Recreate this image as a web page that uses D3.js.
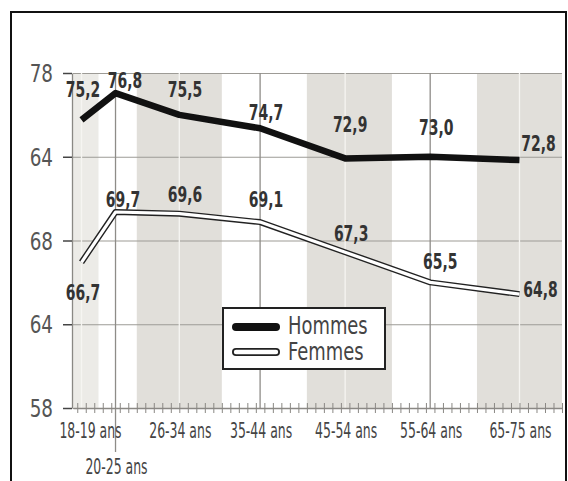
<!DOCTYPE html>
<html><head><meta charset="utf-8">
<script src="https://cdn.jsdelivr.net/npm/d3@7"></script>
<style>body{margin:0;background:#fff}svg{display:block}</style>
</head><body><svg id="chart" width="568" height="481"></svg>
<script>
// ---- data ----
const ageGroups = ["18-19 ans","20-25 ans","26-34 ans","35-44 ans","45-54 ans","55-64 ans","65-75 ans"];
const ageMid = [18.5, 22.5, 30, 39.5, 49.5, 59.5, 70];
const hommes = [75.2, 76.8, 75.5, 74.7, 72.9, 73.0, 72.8];
const femmes = [66.7, 69.7, 69.6, 69.1, 67.3, 65.5, 64.8];
const yTickValues = [58, 63, 68, 73, 78];
const yTickLabels = ["58", "64", "68", "64", "78"];
const shadedBands = [[17.5, 20.5], [25, 35], [45, 55], [65, 75]];
const seriesNames = ["Hommes", "Femmes"];

// ---- layout ----
const FONT = "'Liberation Sans Narrow','Arial Narrow','DejaVu Sans Condensed',sans-serif";
const svg = d3.select("#chart");
svg.append("rect").attr("width",568).attr("height",481).attr("fill","#fff");

const x = d3.scaleLinear().domain([17.5, 75]).range([73, 562]);
const y = d3.scaleLinear().domain([58, 78]).range([408, 73]);
const fr = d3.formatLocale({decimal: ",", thousands: " ", grouping: [3], currency: ["", "€"]});
const fmt = fr.format(".1f");

// bands
svg.append("g").selectAll("rect").data(shadedBands).join("rect")
  .attr("x", d => x(d[0])).attr("width", d => x(d[1]) - x(d[0]))
  .attr("y", y(78)).attr("height", y(58) - y(78))
  .attr("fill", (d, i) => i === 0 ? "#ecebe7" : "#e1dfda");

// horizontal gridlines
const grid = svg.append("g").attr("transform", `translate(${x(17.5)},0)`)
  .call(d3.axisLeft(y).tickValues(yTickValues).tickSize(-(x(75) - x(17.5))).tickFormat(""));
grid.select(".domain").remove();
grid.selectAll(".tick line").attr("stroke", "#9d9b96").attr("stroke-width", 1.2);

// vertical category lines
const inBand = a => shadedBands.some(b => a >= b[0] && a <= b[1]);
svg.append("g").selectAll("line").data(ageMid).join("line")
  .attr("x1", d => x(d)).attr("x2", d => x(d))
  .attr("y1", y(78)).attr("y2", (d, i) => i === 1 ? 452 : y(58))
  .attr("stroke", d => inBand(d) ? "#f6f5f2" : "#8e8c88")
  .attr("stroke-width", 1.3);

// x axis with yearly minor ticks
const xa = svg.append("g").attr("transform", `translate(0,${y(58)})`)
  .call(d3.axisBottom(x).tickValues(d3.range(18, 76)).tickSize(5).tickSizeOuter(0).tickFormat(""));
xa.select(".domain").attr("stroke", "#8a8884").attr("stroke-width", 1.3);
xa.selectAll(".tick line").attr("y1", -5).attr("y2", 5).attr("stroke", "#8a8884");

// y axis
const YS = 0.85;
const ya = svg.append("g").attr("transform", `translate(${x(17.5) - 1},0)`)
  .call(d3.axisLeft(y).tickValues(yTickValues).tickSize(9).tickSizeOuter(0).tickPadding(10)
    .tickFormat(d => yTickLabels[yTickValues.indexOf(d)]));
ya.select(".domain").attr("stroke", "#8a8884").attr("stroke-width", 1.3);
ya.selectAll(".tick line").attr("stroke", "#444").attr("stroke-width", 1.5);
ya.selectAll(".tick text").attr("font-family", FONT).attr("font-size", 24).attr("fill", "#555")
  .attr("dy", "0.36em").attr("transform", `scale(${YS},1)`).attr("x", -19 / YS);

// x labels
const xlab = svg.append("g").selectAll("g").data(ageGroups).join("g")
  .attr("transform", (d, i) => {
    const cx = x(ageMid[i]) + (i === 0 ? 9 : 1);
    const by = i === 1 ? 474 : 438;
    return `translate(${cx},${by}) scale(0.63,1)`;
  });
xlab.append("text").text(d => d).attr("text-anchor", "middle")
  .attr("font-family", FONT).attr("font-size", 22).attr("fill", "#444");

// lines
const line = d3.line().x((d, i) => x(ageMid[i])).y(d => y(d));
svg.append("path").datum(hommes).attr("d", line)
  .attr("fill", "none").attr("stroke", "#111").attr("stroke-width", 6.5).attr("stroke-linejoin", "round");
svg.append("path").datum(femmes).attr("d", line)
  .attr("fill", "none").attr("stroke", "#222").attr("stroke-width", 6).attr("stroke-linejoin", "round");
svg.append("path").datum(femmes).attr("d", line)
  .attr("fill", "none").attr("stroke", "#fff").attr("stroke-width", 3.2).attr("stroke-linejoin", "round");

// value labels (placement offsets relative to each point)
const hOff = [[1.5,-30],[9.5,-13],[5.7,-25],[6,-16],[5,-34],[6,-29],[19,-17]];
const fOff = [[1.5,30],[7.5,-13],[5.7,-19],[6,-23],[6,-19],[10,-21],[21,-5]];
function valueLabels(vals, off) {
  svg.append("g").selectAll("g").data(vals).join("g")
    .attr("transform", (d, i) => `translate(${x(ageMid[i]) + off[i][0]},${y(d) + off[i][1]}) scale(0.74,1)`)
    .append("text")
    .attr("dy", "0.36em")
    .attr("text-anchor", "middle")
    .attr("font-family", FONT).attr("font-weight", "bold").attr("font-size", 21)
    .attr("fill", "#333")
    .text(d => fmt(d));
}
valueLabels(hommes, hOff);
valueLabels(femmes, fOff);

// legend
const lg = svg.append("g");
lg.append("rect").attr("x", 223).attr("y", 308).attr("width", 162).attr("height", 61)
  .attr("fill", "#fff").attr("stroke", "#222").attr("stroke-width", 2);
lg.append("line").attr("x1", 236).attr("x2", 276).attr("y1", 327).attr("y2", 327)
  .attr("stroke", "#111").attr("stroke-width", 8).attr("stroke-linecap", "round");
lg.append("line").attr("x1", 236).attr("x2", 276).attr("y1", 352).attr("y2", 352)
  .attr("stroke", "#222").attr("stroke-width", 8).attr("stroke-linecap", "round");
lg.append("line").attr("x1", 236).attr("x2", 276).attr("y1", 352).attr("y2", 352)
  .attr("stroke", "#fff").attr("stroke-width", 4.4).attr("stroke-linecap", "round");
lg.selectAll("g.lt").data(seriesNames).join("g").attr("class", "lt")
  .attr("transform", (d, i) => `translate(288,${334 + i * 26}) scale(0.83,1)`)
  .append("text")
  .attr("font-family", FONT).attr("font-size", 24).attr("fill", "#444")
  .text(d => d);

// outer frame
svg.append("rect").attr("x", 11).attr("y", 12).attr("width", 555).attr("height", 490)
  .attr("fill", "none").attr("stroke", "#111").attr("stroke-width", 2);
</script>
</body></html>
